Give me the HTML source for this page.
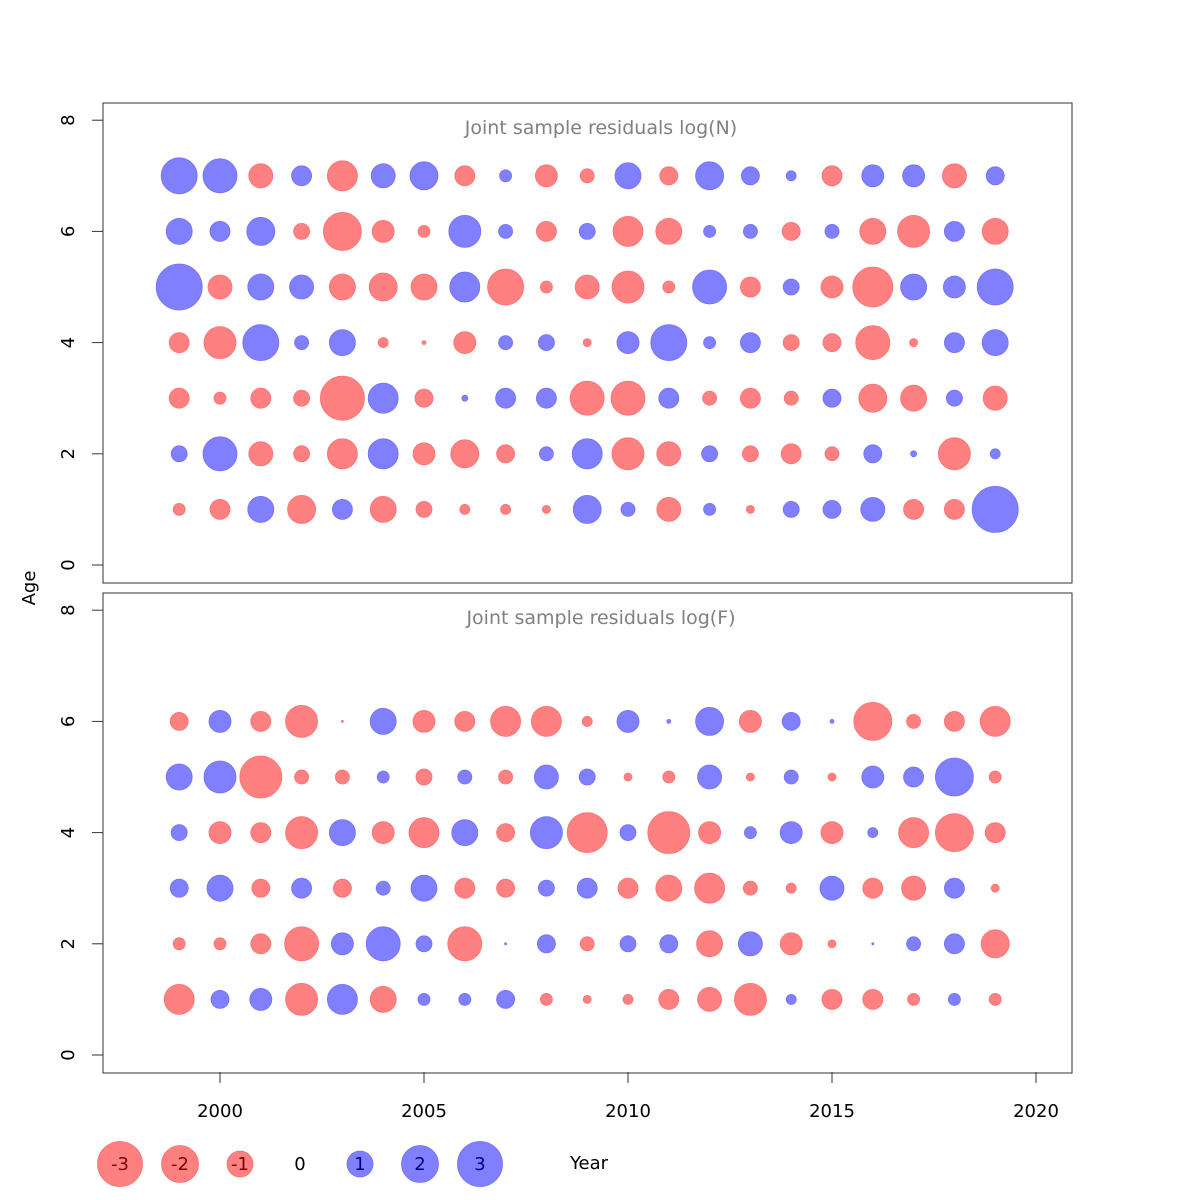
<!DOCTYPE html>
<html><head><meta charset="utf-8"><style>body{margin:0;background:#fff}svg{display:block}text{font-family:"DejaVu Sans","Liberation Sans",sans-serif}</style></head>
<body><svg id="s" width="1200" height="1200" xmlns="http://www.w3.org/2000/svg"></svg>
<script>
(function(){
var topRows=[
"b18 b17 r12 b10 r15 b12 b14 r10 b6 r11 r7 b13 r9 b14 b9 b5 r10 b11 b11 r12 b9",
"b13 b10 b14 r8 r19 r11 r6 b16 b7 r10 b8 r15 r13 b6 b7 r9 b7 r13 r16 b10 r13",
"b23 r12 b13 b12 r13 r14 r13 b15 r18 r6 r12 r16 r6 b17 r10 b8 r11 r20 b13 b11 b18",
"r10 r16 b18 b7 b13 r5 r2 r11 b7 b8 r4 b11 b18 b6 b10 r8 r9 r17 r4 b10 b13",
"r10 r6 r10 r8 r22 b15 r9 b3 b10 b10 r17 r17 b10 r7 r10 r7 b9 r14 r13 b8 r12",
"b8 b17 r12 r8 r15 b15 r11 r14 r9 b7 b15 r16 r12 b8 r8 r10 r7 b9 b3 r16 b5",
"r6 r10 b13 r14 b10 r13 r8 r5 r5 r4 b14 b7 r12 b6 r4 b8 b9 b12 r10 r10 b23"];
var botRows=[
"r9 b11 r10 r16 r1 b13 r11 r10 r15 r15 r5 b11 b2 b14 r11 b9 b2 r19 r7 r10 r15",
"b13 b16 r21 r7 r7 b6 r8 b7 r7 b12 b8 r4 r6 b12 r4 b7 r4 b11 b10 b19 r6",
"b8 r11 r10 r16 b13 r11 r15 b13 r9 b16 r20 b8 r21 r11 b6 b11 r11 b5 r15 r19 r10",
"b9 b13 r9 b10 r9 b7 b13 r10 r9 b8 b10 r10 r13 r15 r7 r5 b12 r10 r12 b10 r4",
"r6 r6 r10 r17 b11 b17 b8 r17 b1 b9 r7 b8 b9 r13 b12 r11 r4 b1 b7 b10 r14",
"r15 b9 b11 r16 b15 r13 b6 b6 b9 r6 r4 r5 r10 r12 r16 b5 r10 r10 r6 b6 r6"];
function X(y){return 220+(y-2000)*40.8;}
var h='';
var col={r:'#ff8080',b:'#8080ff'},st={r:'#ff7070',b:'#7070ff'};
function panel(rows,startAge,y0,by0,title){
 h+='<rect x="103" y="'+by0+'" width="969" height="480" fill="none" stroke="#333" stroke-width="1"/>';
 h+='<text x="601" y="'+(by0+31)+'" font-size="19" fill="#808080" text-anchor="middle">'+title+'</text>';
 for(var a=0;a<=8;a+=2){var y=y0-a*55.6;h+='<line x1="92" x2="103" y1="'+y+'" y2="'+y+'" stroke="#333"/><text transform="translate(74,'+y+') rotate(-90)" font-size="18" text-anchor="middle">'+a+'</text>';}
 rows.forEach(function(r,i){var age=startAge-i,y=y0-age*55.6;r.split(' ').forEach(function(c,j){h+='<circle cx="'+X(1999+j)+'" cy="'+y+'" r="'+c.slice(1)+'" fill="'+col[c[0]]+'" stroke="'+st[c[0]]+'" stroke-width="0.8"/>';});});
}
panel(topRows,7,565,103,'Joint sample residuals log(N)');
panel(botRows,6,1055,593,'Joint sample residuals log(F)');
for(var yy=2000;yy<=2020;yy+=5){var x=X(yy);h+='<line x1="'+x+'" x2="'+x+'" y1="1072" y2="1083" stroke="#333"/><text x="'+x+'" y="1117" font-size="18" text-anchor="middle">'+yy+'</text>';}
h+='<text transform="translate(35,588) rotate(-90)" font-size="18" text-anchor="middle">Age</text>';
var lg=[[-3,120,22.5],[-2,180,18.5],[-1,240,13],[0,300,0],[1,360,13],[2,420,18.5],[3,480,22.5]];
lg.forEach(function(l){var v=l[0],x=l[1],r=l[2];var c=v<0?'r':'b';if(r)h+='<circle cx="'+x+'" cy="1164" r="'+r+'" fill="'+col[c]+'" stroke="'+st[c]+'" stroke-width="0.8"/>';h+='<text x="'+x+'" y="1170" font-size="18" text-anchor="middle" fill="'+(v<0?'#800000':v>0?'#000080':'#000')+'">'+v+'</text>';});
h+='<text x="589" y="1169" font-size="18" text-anchor="middle">Year</text>';
document.getElementById('s').innerHTML=h;
})();
</script></body></html>
